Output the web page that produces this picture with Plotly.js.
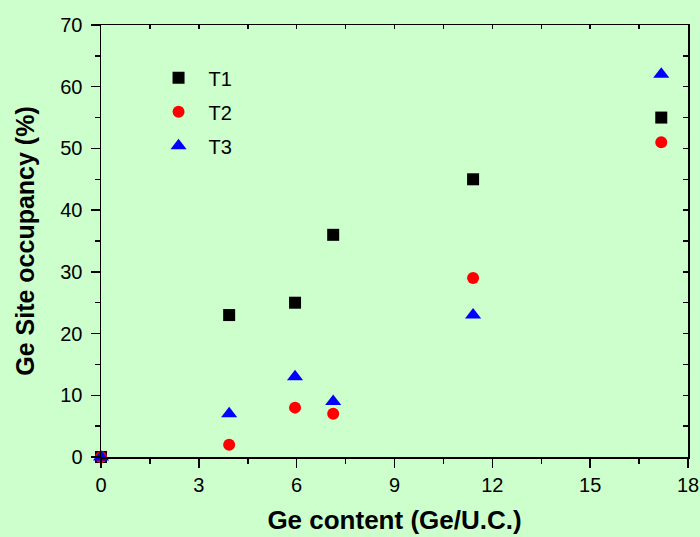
<!DOCTYPE html>
<html>
<head>
<meta charset="utf-8">
<script src="https://cdn.plot.ly/plotly-3.0.1.min.js"></script>
<style>
html,body{margin:0;padding:0;background:#ccffcc;}
#chart{width:700px;height:537px;}
</style>
</head>
<body>
<div id="chart"></div>
<script>
// Data
const geContent = [0, 3.93, 5.95, 7.12, 11.41, 17.18];
const t1 = [0, 23, 25, 36, 45, 55];
const t2 = [0, 2, 8, 7, 29, 51];
const t3 = [0, 7, 13, 9, 23, 62];
const seriesNames = ['T1', 'T2', 'T3'];

const FONT = '"Liberation Sans", Arial, sans-serif';

const traces = [
  {x: geContent, y: t1, name: seriesNames[0], type: 'scatter', mode: 'markers', legendgroup: 'a',
   cliponaxis: false, marker: {symbol: 'square', size: 12, color: '#000000'}},
  {x: geContent, y: t2, name: seriesNames[1], type: 'scatter', mode: 'markers', legendgroup: 'b',
   cliponaxis: false, marker: {symbol: 'circle', size: 12, color: '#ff0000'}},
  {x: geContent, y: t3, name: seriesNames[2], type: 'scatter', mode: 'markers', legendgroup: 'c',
   cliponaxis: false, marker: {symbol: 'triangle-up', size: 14, color: '#0000ff'}},
  // helper trace so the mirrored (top/right) axes get drawn
  {x: geContent, y: t1, xaxis: 'x2', yaxis: 'y2', type: 'scatter', mode: 'markers',
   marker: {opacity: 0}, showlegend: false, hoverinfo: 'skip'}
];

const layout = {
  width: 700, height: 537,
  paper_bgcolor: '#ccffcc', plot_bgcolor: '#ccffcc',
  margin: {l: 101, r: 12, t: 25, b: 80},
  font: {family: FONT, color: '#000', size: 20},
  showlegend: true,
  legend: {x: 0.081, y: 0.923, xanchor: 'left', yanchor: 'top', bgcolor: 'rgba(0,0,0,0)',
           font: {family: FONT, size: 20}, tracegroupgap: 5, itemwidth: 50},
  xaxis: {
    range: [0, 18], dtick: 3, tick0: 0, ticks: 'outside', ticklen: 9, tickwidth: 1.5, tickcolor: '#000',
    showline: true, linewidth: 1.5, linecolor: '#000', showgrid: false, zeroline: false,
    minor: {dtick: 1.5, tick0: 0, ticks: 'outside', ticklen: 5, tickwidth: 1.5, tickcolor: '#000', showgrid: false},
    tickfont: {family: FONT, size: 20},
    title: {text: '<b>Ge content (Ge/U.C.)</b>', font: {family: FONT, size: 26}, standoff: 16}
  },
  yaxis: {
    range: [0, 70], dtick: 10, tick0: 0, ticks: 'outside', ticklen: 9, tickwidth: 1.5, tickcolor: '#000',
    showline: true, linewidth: 1.5, linecolor: '#000', showgrid: false, zeroline: false,
    minor: {dtick: 5, tick0: 0, ticks: 'outside', ticklen: 5, tickwidth: 1.5, tickcolor: '#000', showgrid: false},
    tickfont: {family: FONT, size: 20}, ticklabelstandoff: 4,
    title: {text: '<b>Ge Site occupancy (%)</b>', font: {family: FONT, size: 25}, standoff: 18}
  },
  xaxis2: {
    overlaying: 'x', side: 'top', range: [0, 18], dtick: 1.5, tick0: 0, ticks: 'inside', ticklen: 4,
    tickwidth: 1.5, tickcolor: '#000', showline: true, linewidth: 1.5, linecolor: '#000',
    showticklabels: false, showgrid: false, zeroline: false
  },
  yaxis2: {
    overlaying: 'y', side: 'right', range: [0, 70], dtick: 5, tick0: 0, ticks: 'inside', ticklen: 5,
    tickwidth: 1.5, tickcolor: '#000', showline: true, linewidth: 1.5, linecolor: '#000',
    showticklabels: false, showgrid: false, zeroline: false
  }
};

Plotly.newPlot('chart', traces, layout, {displayModeBar: false, staticPlot: true});
</script>
</body>
</html>
